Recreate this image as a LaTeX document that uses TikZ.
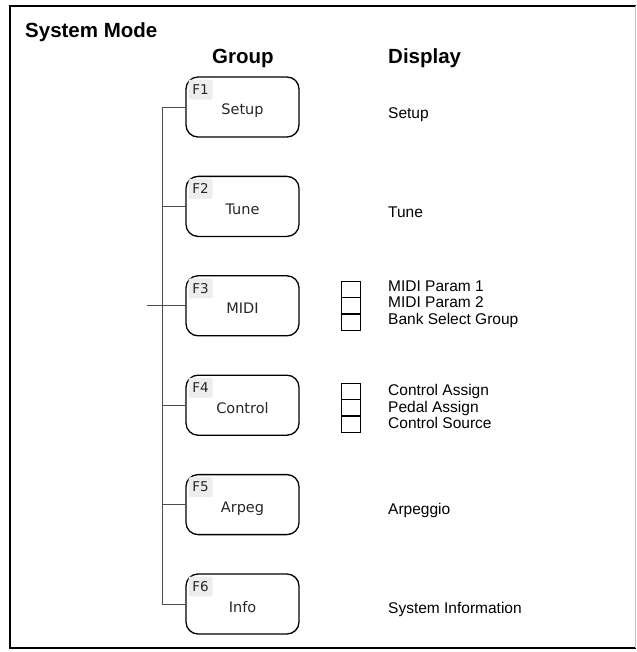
\documentclass[tikz,border=0pt]{standalone}
\usepackage{fontspec}
\setmainfont{Liberation Sans}
\newfontfamily\boxfont{DejaVu Sans}
\begin{document}
\begin{tikzpicture}[x=1pt,y=-1pt,
  grp/.style={draw=black, line width=1.3pt, rounded corners=12pt, minimum width=113pt, minimum height=60pt, inner sep=0pt},
  lbl/.style={anchor=base, inner sep=0pt, font=\boxfont\fontsize{14.5}{16}\selectfont, text=black!85},
  ftag/.style={anchor=north west, fill=black!7, rounded corners=2pt, minimum width=24pt, minimum height=20pt, inner sep=0pt, font=\boxfont\fontsize{13.5}{15}\selectfont, text=black!85},
  conn/.style={draw=black!70, line width=0.8pt},
  disp/.style={anchor=base west, inner sep=0pt, font=\fontsize{15.5}{17}\selectfont},
  head/.style={anchor=base west, inner sep=0pt, font=\bfseries\fontsize{20.5}{24}\selectfont},
  cell/.style={draw=black, line width=0.7pt, minimum width=19pt, minimum height=15.8pt, inner sep=0pt}
]
\useasboundingbox (0,0) rectangle (636,652);
% frame
\draw[line width=2.2pt] (636,6) -- (10,6) -- (10,648) -- (636,648);
\draw[black!25, line width=0.6pt] (635,6) -- (635,648);
% headings
\node[head] (title) at (25,38) {System Mode};
\node[head] (hgroup) at (212,64) {Group};
\node[head] (hdisp) at (388,64) {Display};
% group boxes
\foreach \i/\name/\y in {1/Setup/107, 2/Tune/206.4, 3/MIDI/305.8, 4/Control/405.2, 5/Arpeg/504.6, 6/Info/604}{
  \node[grp] (b\i) at (242.5,\y) {};
  \node[ftag] (f\i) at ([xshift=3pt,yshift=-3pt]b\i.north west) {F\i};
  \node[lbl] (t\i) at ([yshift=-8pt]b\i.center) {\name};
}
% connectors
\draw[conn] (b1.west) -- ++(-23,0) |- (b6.west);
\foreach \i in {2,3,4,5}{ \draw[conn] (b\i.west) -- ++(-23,0); }
\coordinate (in) at (147,305.8);
\draw[conn] (in) -- (b3.west);
% display texts
\node[disp] (d1) at (388,119) {Setup};
\node[disp] (d2) at (388,217.8) {Tune};
\node[disp] (d5) at (388,514.2) {Arpeggio};
\node[disp] (d6) at (388,613) {System Information};
% MIDI list
\node[cell] (m1) at (350.5,289) {};
\node[cell, anchor=north] (m2) at (m1.south) {};
\node[cell, anchor=north] (m3) at (m2.south) {};
\node[disp] (dm1) at (388,291) {MIDI Param 1};
\node[disp] (dm2) at (388,307.5) {MIDI Param 2};
\node[disp] (dm3) at (388,324) {Bank Select Group};
% Control list
\node[cell] (c1) at (350.5,391) {};
\node[cell, anchor=north] (c2) at (c1.south) {};
\node[cell, anchor=north] (c3) at (c2.south) {};
\node[disp] (dc1) at (388,395.5) {Control Assign};
\node[disp] (dc2) at (388,412) {Pedal Assign};
\node[disp] (dc3) at (388,428.5) {Control Source};
\end{tikzpicture}
\end{document}
